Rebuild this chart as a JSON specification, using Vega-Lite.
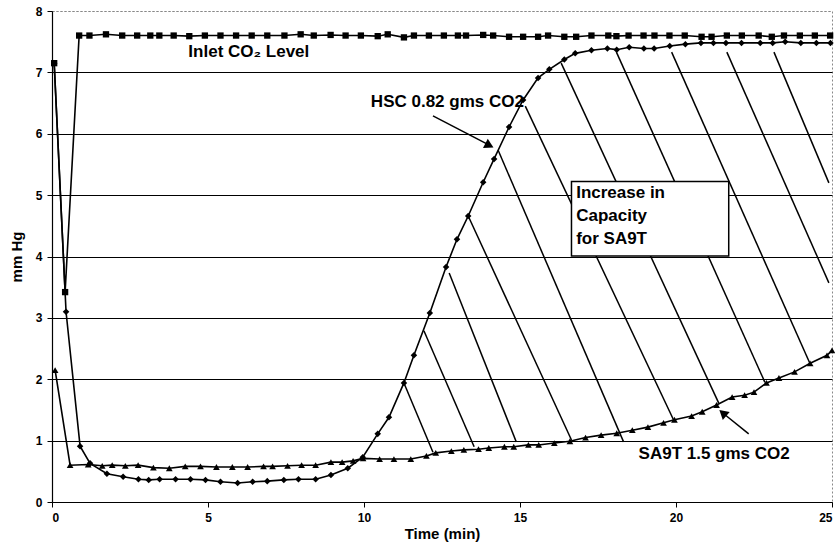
{
  "$schema": "https://vega.github.io/schema/vega-lite/v6.json",
  "width": 780,
  "height": 491,
  "autosize": {"type": "none"},
  "padding": {"left": 52, "top": 11, "right": 3, "bottom": 57},
  "config": {
    "font": "Liberation Sans",
    "view": {"stroke": "#888888", "strokeDash": [2, 2], "strokeWidth": 1},
    "background": "white"
  },
  "datasets": {
    "series": [
      {"s": "Inlet", "t": 0.07, "p": 7.15}, {"s": "Inlet", "t": 0.42, "p": 3.42}, {"s": "Inlet", "t": 0.87, "p": 7.6},
      {"s": "Inlet", "t": 1.2, "p": 7.6}, {"s": "Inlet", "t": 1.73, "p": 7.62}, {"s": "Inlet", "t": 2.25, "p": 7.6},
      {"s": "Inlet", "t": 2.73, "p": 7.6}, {"s": "Inlet", "t": 3.15, "p": 7.6}, {"s": "Inlet", "t": 3.44, "p": 7.6},
      {"s": "Inlet", "t": 3.9, "p": 7.6}, {"s": "Inlet", "t": 4.4, "p": 7.59}, {"s": "Inlet", "t": 4.9, "p": 7.6},
      {"s": "Inlet", "t": 5.4, "p": 7.6}, {"s": "Inlet", "t": 5.9, "p": 7.6}, {"s": "Inlet", "t": 6.4, "p": 7.6},
      {"s": "Inlet", "t": 6.9, "p": 7.6}, {"s": "Inlet", "t": 7.45, "p": 7.6}, {"s": "Inlet", "t": 7.97, "p": 7.62},
      {"s": "Inlet", "t": 8.39, "p": 7.6}, {"s": "Inlet", "t": 8.93, "p": 7.61}, {"s": "Inlet", "t": 9.41, "p": 7.6},
      {"s": "Inlet", "t": 9.9, "p": 7.6}, {"s": "Inlet", "t": 10.44, "p": 7.59}, {"s": "Inlet", "t": 10.76, "p": 7.62},
      {"s": "Inlet", "t": 11.28, "p": 7.57}, {"s": "Inlet", "t": 11.6, "p": 7.6}, {"s": "Inlet", "t": 12.08, "p": 7.6},
      {"s": "Inlet", "t": 12.56, "p": 7.6}, {"s": "Inlet", "t": 13.01, "p": 7.6}, {"s": "Inlet", "t": 13.27, "p": 7.6},
      {"s": "Inlet", "t": 13.82, "p": 7.61}, {"s": "Inlet", "t": 14.14, "p": 7.6}, {"s": "Inlet", "t": 14.65, "p": 7.58},
      {"s": "Inlet", "t": 15.1, "p": 7.58}, {"s": "Inlet", "t": 15.58, "p": 7.58}, {"s": "Inlet", "t": 15.9, "p": 7.6},
      {"s": "Inlet", "t": 16.42, "p": 7.58}, {"s": "Inlet", "t": 16.8, "p": 7.58}, {"s": "Inlet", "t": 17.29, "p": 7.6},
      {"s": "Inlet", "t": 17.83, "p": 7.6}, {"s": "Inlet", "t": 18.09, "p": 7.59}, {"s": "Inlet", "t": 18.48, "p": 7.6},
      {"s": "Inlet", "t": 18.96, "p": 7.6}, {"s": "Inlet", "t": 19.31, "p": 7.6}, {"s": "Inlet", "t": 19.79, "p": 7.6},
      {"s": "Inlet", "t": 20.28, "p": 7.6}, {"s": "Inlet", "t": 20.82, "p": 7.58}, {"s": "Inlet", "t": 21.14, "p": 7.58},
      {"s": "Inlet", "t": 21.63, "p": 7.6}, {"s": "Inlet", "t": 22.11, "p": 7.6}, {"s": "Inlet", "t": 22.65, "p": 7.6},
      {"s": "Inlet", "t": 23.07, "p": 7.58}, {"s": "Inlet", "t": 23.46, "p": 7.6}, {"s": "Inlet", "t": 23.97, "p": 7.6},
      {"s": "Inlet", "t": 24.45, "p": 7.6}, {"s": "Inlet", "t": 24.94, "p": 7.6},

      {"s": "HSC", "t": 0.07, "p": 7.15}, {"s": "HSC", "t": 0.45, "p": 3.1}, {"s": "HSC", "t": 0.9, "p": 0.91},
      {"s": "HSC", "t": 1.22, "p": 0.63}, {"s": "HSC", "t": 1.76, "p": 0.46}, {"s": "HSC", "t": 2.28, "p": 0.41},
      {"s": "HSC", "t": 2.77, "p": 0.37}, {"s": "HSC", "t": 3.1, "p": 0.36}, {"s": "HSC", "t": 3.45, "p": 0.37},
      {"s": "HSC", "t": 3.96, "p": 0.37}, {"s": "HSC", "t": 4.44, "p": 0.37}, {"s": "HSC", "t": 4.92, "p": 0.36},
      {"s": "HSC", "t": 5.4, "p": 0.33}, {"s": "HSC", "t": 5.95, "p": 0.31}, {"s": "HSC", "t": 6.43, "p": 0.33},
      {"s": "HSC", "t": 6.9, "p": 0.34}, {"s": "HSC", "t": 7.43, "p": 0.36}, {"s": "HSC", "t": 7.9, "p": 0.37},
      {"s": "HSC", "t": 8.45, "p": 0.37}, {"s": "HSC", "t": 8.94, "p": 0.44}, {"s": "HSC", "t": 9.48, "p": 0.55},
      {"s": "HSC", "t": 9.96, "p": 0.73}, {"s": "HSC", "t": 10.44, "p": 1.11}, {"s": "HSC", "t": 10.8, "p": 1.38},
      {"s": "HSC", "t": 11.28, "p": 1.94}, {"s": "HSC", "t": 11.6, "p": 2.39}, {"s": "HSC", "t": 12.11, "p": 3.08},
      {"s": "HSC", "t": 12.63, "p": 3.83}, {"s": "HSC", "t": 12.98, "p": 4.28}, {"s": "HSC", "t": 13.34, "p": 4.66},
      {"s": "HSC", "t": 13.82, "p": 5.21}, {"s": "HSC", "t": 14.17, "p": 5.59}, {"s": "HSC", "t": 14.65, "p": 6.11},
      {"s": "HSC", "t": 15.1, "p": 6.55}, {"s": "HSC", "t": 15.58, "p": 6.91}, {"s": "HSC", "t": 15.94, "p": 7.05},
      {"s": "HSC", "t": 16.42, "p": 7.21}, {"s": "HSC", "t": 16.77, "p": 7.31}, {"s": "HSC", "t": 17.29, "p": 7.36},
      {"s": "HSC", "t": 17.8, "p": 7.39}, {"s": "HSC", "t": 18.1, "p": 7.37}, {"s": "HSC", "t": 18.5, "p": 7.41},
      {"s": "HSC", "t": 18.97, "p": 7.39}, {"s": "HSC", "t": 19.3, "p": 7.39}, {"s": "HSC", "t": 19.8, "p": 7.43},
      {"s": "HSC", "t": 20.3, "p": 7.46}, {"s": "HSC", "t": 20.8, "p": 7.48}, {"s": "HSC", "t": 21.2, "p": 7.48},
      {"s": "HSC", "t": 21.6, "p": 7.48}, {"s": "HSC", "t": 22.1, "p": 7.48}, {"s": "HSC", "t": 22.7, "p": 7.48},
      {"s": "HSC", "t": 23.1, "p": 7.48}, {"s": "HSC", "t": 23.5, "p": 7.5}, {"s": "HSC", "t": 24.0, "p": 7.48},
      {"s": "HSC", "t": 24.5, "p": 7.48}, {"s": "HSC", "t": 24.95, "p": 7.48},

      {"s": "SA9T", "t": 0.1, "p": 2.15}, {"s": "SA9T", "t": 0.58, "p": 0.6}, {"s": "SA9T", "t": 1.16, "p": 0.61},
      {"s": "SA9T", "t": 1.61, "p": 0.59}, {"s": "SA9T", "t": 1.93, "p": 0.6}, {"s": "SA9T", "t": 2.35, "p": 0.59},
      {"s": "SA9T", "t": 2.76, "p": 0.6}, {"s": "SA9T", "t": 3.25, "p": 0.56}, {"s": "SA9T", "t": 3.76, "p": 0.55},
      {"s": "SA9T", "t": 4.27, "p": 0.58}, {"s": "SA9T", "t": 4.76, "p": 0.58}, {"s": "SA9T", "t": 5.27, "p": 0.57},
      {"s": "SA9T", "t": 5.78, "p": 0.57}, {"s": "SA9T", "t": 6.27, "p": 0.57}, {"s": "SA9T", "t": 6.78, "p": 0.58},
      {"s": "SA9T", "t": 7.07, "p": 0.58}, {"s": "SA9T", "t": 7.55, "p": 0.59}, {"s": "SA9T", "t": 8.0, "p": 0.6},
      {"s": "SA9T", "t": 8.45, "p": 0.6}, {"s": "SA9T", "t": 8.94, "p": 0.65}, {"s": "SA9T", "t": 9.3, "p": 0.65},
      {"s": "SA9T", "t": 9.65, "p": 0.67}, {"s": "SA9T", "t": 9.97, "p": 0.71}, {"s": "SA9T", "t": 10.5, "p": 0.7},
      {"s": "SA9T", "t": 10.96, "p": 0.7}, {"s": "SA9T", "t": 11.5, "p": 0.7}, {"s": "SA9T", "t": 12.0, "p": 0.75},
      {"s": "SA9T", "t": 12.3, "p": 0.8}, {"s": "SA9T", "t": 12.8, "p": 0.83}, {"s": "SA9T", "t": 13.2, "p": 0.85},
      {"s": "SA9T", "t": 13.67, "p": 0.86}, {"s": "SA9T", "t": 14.0, "p": 0.88}, {"s": "SA9T", "t": 14.5, "p": 0.9},
      {"s": "SA9T", "t": 14.8, "p": 0.9}, {"s": "SA9T", "t": 15.27, "p": 0.93}, {"s": "SA9T", "t": 15.6, "p": 0.93},
      {"s": "SA9T", "t": 16.1, "p": 0.96}, {"s": "SA9T", "t": 16.6, "p": 0.99}, {"s": "SA9T", "t": 17.1, "p": 1.05},
      {"s": "SA9T", "t": 17.6, "p": 1.09}, {"s": "SA9T", "t": 18.1, "p": 1.12}, {"s": "SA9T", "t": 18.6, "p": 1.17},
      {"s": "SA9T", "t": 19.1, "p": 1.22}, {"s": "SA9T", "t": 19.6, "p": 1.29}, {"s": "SA9T", "t": 19.95, "p": 1.34},
      {"s": "SA9T", "t": 20.5, "p": 1.4}, {"s": "SA9T", "t": 20.84, "p": 1.47}, {"s": "SA9T", "t": 21.3, "p": 1.58},
      {"s": "SA9T", "t": 21.8, "p": 1.71}, {"s": "SA9T", "t": 22.2, "p": 1.74}, {"s": "SA9T", "t": 22.5, "p": 1.79},
      {"s": "SA9T", "t": 22.9, "p": 1.94}, {"s": "SA9T", "t": 23.3, "p": 2.02}, {"s": "SA9T", "t": 23.8, "p": 2.12},
      {"s": "SA9T", "t": 24.3, "p": 2.26}, {"s": "SA9T", "t": 24.84, "p": 2.39}, {"s": "SA9T", "t": 25.0, "p": 2.47}
    ],
    "hatch": [
      {"t": 11.28, "p": 1.94, "t2": 12.21, "p2": 0.81},
      {"t": 11.92, "p": 2.79, "t2": 13.53, "p2": 0.9},
      {"t": 12.73, "p": 3.73, "t2": 14.88, "p2": 0.98},
      {"t": 13.34, "p": 4.66, "t2": 16.65, "p2": 1.01},
      {"t": 14.3, "p": 5.73, "t2": 18.32, "p2": 0.98},
      {"t": 15.17, "p": 6.45, "t2": 19.92, "p2": 1.34},
      {"t": 16.32, "p": 7.15, "t2": 21.37, "p2": 1.61},
      {"t": 18.09, "p": 7.33, "t2": 22.85, "p2": 1.95},
      {"t": 19.86, "p": 7.33, "t2": 24.29, "p2": 2.26},
      {"t": 21.63, "p": 7.33, "t2": 24.9, "p2": 3.57},
      {"t": 23.14, "p": 7.33, "t2": 24.9, "p2": 5.2}
    ],
    "box": [{"t": 16.65, "p": 5.22, "t2": 21.69, "p2": 4.01}],
    "boxtext": [
      {"t": 16.8, "p": 5.03, "label": "Increase in"},
      {"t": 16.8, "p": 4.66, "label": "Capacity"},
      {"t": 16.8, "p": 4.28, "label": "for SA9T"}
    ],
    "arrows": [
      {"t": 12.21, "p": 6.29, "t2": 14.0, "p2": 5.82},
      {"t": 22.33, "p": 1.11, "t2": 21.55, "p2": 1.43}
    ],
    "heads": [
      {"t": 14.02, "p": 5.81, "ang": 27},
      {"t": 21.5, "p": 1.45, "ang": 221}
    ],
    "labels": [
      {"t": 4.37, "p": 7.33, "label": "Inlet CO₂ Level"},
      {"t": 10.22, "p": 6.52, "label": "HSC 0.82 gms CO2"},
      {"t": 18.8, "p": 0.78, "label": "SA9T 1.5 gms CO2"}
    ]
  },
  "layer": [
    {
      "data": {"name": "hatch"},
      "mark": {"type": "rule", "color": "black", "strokeWidth": 1.5},
      "encoding": {
        "x": {"field": "t", "type": "quantitative", "scale": {"domain": [0, 25], "nice": false, "zero": false},
          "axis": {"values": [0, 5, 10, 15, 20, 25], "grid": false, "title": "Time (min)", "domainColor": "black", "domainWidth": 1.2,
            "tickColor": "black", "tickSize": 5, "labelFontSize": 12, "labelFontWeight": "bold", "labelColor": "black",
            "labelPadding": 5, "titleFontSize": 15, "titleFontWeight": "bold", "titleColor": "black", "titlePadding": 3}},
        "y": {"field": "p", "type": "quantitative", "scale": {"domain": [0, 8], "nice": false, "zero": false},
          "axis": {"values": [0, 1, 2, 3, 4, 5, 6, 7, 8], "format": "d", "grid": true,
            "gridColor": {"condition": {"test": "datum.value == 8", "value": "#888888"}, "value": "black"},
            "gridDash": {"condition": {"test": "datum.value == 8", "value": [2, 2]}, "value": []},
            "gridWidth": 1, "title": "mm Hg", "domainColor": "black", "domainWidth": 1.2,
            "tickColor": "black", "tickSize": 5, "labelFontSize": 12, "labelFontWeight": "bold", "labelColor": "black",
            "labelPadding": 5, "titleFontSize": 15, "titleFontWeight": "bold", "titleColor": "black", "titlePadding": 11}},
        "x2": {"field": "t2"},
        "y2": {"field": "p2"}
      }
    },
    {
      "data": {"name": "box"},
      "mark": {"type": "rect", "fill": "white", "stroke": "black", "strokeWidth": 1.5},
      "encoding": {
        "x": {"field": "t", "type": "quantitative"},
        "y": {"field": "p", "type": "quantitative"},
        "x2": {"field": "t2"},
        "y2": {"field": "p2"}
      }
    },
    {
      "data": {"name": "boxtext"},
      "mark": {"type": "text", "align": "left", "baseline": "middle", "fontSize": 17, "fontWeight": "bold", "color": "black"},
      "encoding": {
        "x": {"field": "t", "type": "quantitative"},
        "y": {"field": "p", "type": "quantitative"},
        "text": {"field": "label"}
      }
    },
    {
      "data": {"name": "series"},
      "mark": {"type": "line", "color": "black", "strokeWidth": 1.6},
      "encoding": {
        "x": {"field": "t", "type": "quantitative"},
        "y": {"field": "p", "type": "quantitative"},
        "detail": {"field": "s"}
      }
    },
    {
      "data": {"name": "series"},
      "mark": {"type": "point", "filled": true, "color": "black", "opacity": 1},
      "encoding": {
        "x": {"field": "t", "type": "quantitative"},
        "y": {"field": "p", "type": "quantitative"},
        "shape": {"field": "s", "type": "nominal", "scale": {"domain": ["Inlet", "HSC", "SA9T"], "range": ["square", "diamond", "triangle-up"]}, "legend": null},
        "size": {"field": "s", "type": "nominal", "scale": {"domain": ["Inlet", "HSC", "SA9T"], "range": [40, 45, 50]}, "legend": null}
      }
    },
    {
      "data": {"name": "arrows"},
      "mark": {"type": "rule", "color": "black", "strokeWidth": 1.5},
      "encoding": {
        "x": {"field": "t", "type": "quantitative"},
        "y": {"field": "p", "type": "quantitative"},
        "x2": {"field": "t2"},
        "y2": {"field": "p2"}
      }
    },
    {
      "data": {"name": "heads"},
      "mark": {"type": "point", "shape": "triangle-right", "filled": true, "color": "black", "size": 110, "opacity": 1},
      "encoding": {
        "x": {"field": "t", "type": "quantitative"},
        "y": {"field": "p", "type": "quantitative"},
        "angle": {"field": "ang", "type": "quantitative", "scale": null}
      }
    },
    {
      "data": {"name": "labels"},
      "mark": {"type": "text", "align": "left", "baseline": "middle", "fontSize": 17, "fontWeight": "bold", "color": "black"},
      "encoding": {
        "x": {"field": "t", "type": "quantitative"},
        "y": {"field": "p", "type": "quantitative"},
        "text": {"field": "label"}
      }
    }
  ]
}
